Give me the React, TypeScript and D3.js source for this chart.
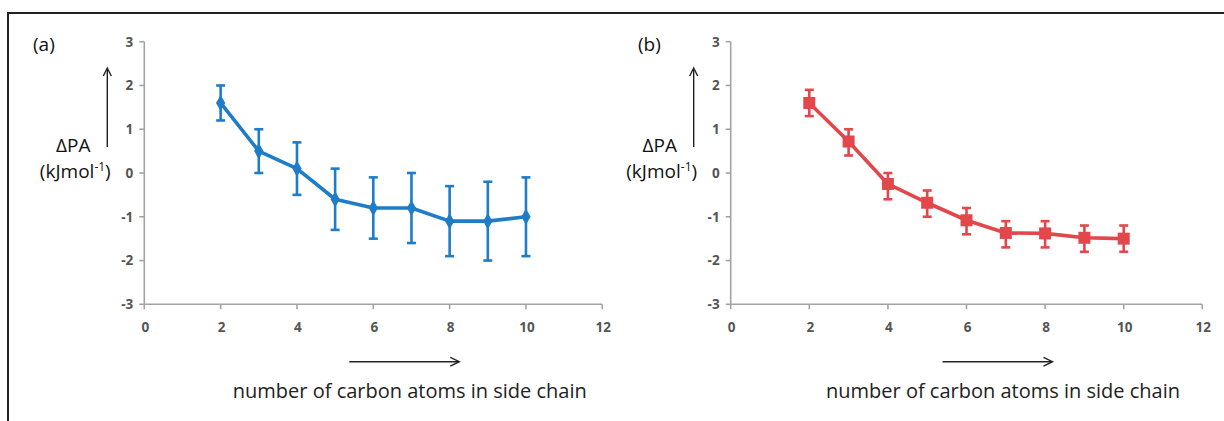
import * as d3 from "d3";

const carbons = [2, 3, 4, 5, 6, 7, 8, 9, 10];

// panel (a)
const paMeanA = [1.6, 0.5, 0.1, -0.6, -0.8, -0.8, -1.1, -1.1, -1.0];
const paHighA = [2.0, 1.0, 0.7, 0.1, -0.1, 0.0, -0.3, -0.2, -0.1];
const paLowA = [1.2, 0.0, -0.5, -1.3, -1.5, -1.6, -1.9, -2.0, -1.9];

// panel (b)
const paMeanB = [1.6, 0.72, -0.25, -0.68, -1.08, -1.37, -1.38, -1.48, -1.5];
const paHighB = [1.9, 1.0, 0.0, -0.4, -0.8, -1.1, -1.1, -1.2, -1.2];
const paLowB = [1.3, 0.4, -0.6, -1.0, -1.4, -1.7, -1.7, -1.8, -1.8];

const xTicks = [0, 2, 4, 6, 8, 10, 12];
const yTicks = [3, 2, 1, 0, -1, -2, -3];
const xLabel = "number of carbon atoms in side chain";

const W = 1224;
const H = 421;
const axisColor = "#a3a3a3";
const tickText = "#555";
const font = "'Open Sans', sans-serif";

function Panel({ tagX, axisX, axisRight, tag, mean, hi, lo, color, marker }) {
  const x = d3.scaleLinear().domain([0, 12]).range([axisX, axisRight]);
  const y = d3.scaleLinear().domain([-3, 3]).range([304.3, 41.7]);
  const line = d3
    .line<number>()
    .x((d, i) => x(carbons[i]))
    .y((d) => y(d));
  const diamond = d3.symbol().type(d3.symbolDiamond).size(75)();
  const labelCx = (x(4) + x(8)) / 2;
  const ax = axisX - 37;

  return (
    <g>
      <text x={tagX} y={51} fontSize={19} fontFamily={font} fill="#111">
        {tag}
      </text>
      {/* vertical arrow */}
      <line x1={ax} x2={ax} y1={147} y2={69} stroke="#222" strokeWidth={1.4} />
      <path
        d={`M${ax - 4},${76} L${ax},${68} L${ax + 4},${76}`}
        fill="none"
        stroke="#222"
        strokeWidth={1.4}
      />
      <text x={axisX - 71} y={152} fontSize={19} fontFamily={font} fill="#111" textAnchor="middle">
        ΔPA
      </text>
      <text x={axisX - 69} y={178} fontSize={19} fontFamily={font} fill="#111" textAnchor="middle">
        (kJmol
        <tspan fontSize={12} dy={-7}>-1</tspan>
        <tspan dy={7}>)</tspan>
      </text>

      {/* axes */}
      <line x1={axisX} x2={axisX} y1={y(3)} y2={y(-3)} stroke={axisColor} strokeWidth={1.6} />
      <line x1={axisX} x2={axisRight} y1={y(-3)} y2={y(-3)} stroke={axisColor} strokeWidth={1.6} />
      {yTicks.map((t) => (
        <g key={"y" + t}>
          <line x1={axisX - 5} x2={axisX} y1={y(t)} y2={y(t)} stroke={axisColor} strokeWidth={1.6} />
          <text
            x={axisX - 11}
            y={y(t) + 4.8}
            fontSize={13.5}
            fontWeight={700}
            fontFamily={font}
            fill={tickText}
            textAnchor="end"
          >
            {t}
          </text>
        </g>
      ))}
      {xTicks.map((t) => (
        <g key={"x" + t}>
          <line x1={x(t)} x2={x(t)} y1={y(-3)} y2={y(-3) + 5} stroke={axisColor} strokeWidth={1.6} />
          <text
            x={x(t) + 1}
            y={y(-3) + 27.5}
            fontSize={13.5}
            fontWeight={700}
            fontFamily={font}
            fill={tickText}
            textAnchor="middle"
          >
            {t}
          </text>
        </g>
      ))}

      {/* error bars */}
      {carbons.map((c, i) => (
        <g key={"e" + c} stroke={color} strokeWidth={2.6}>
          <line x1={x(c)} x2={x(c)} y1={y(hi[i])} y2={y(lo[i])} />
          <line x1={x(c) - 4.5} x2={x(c) + 4.5} y1={y(hi[i])} y2={y(hi[i])} />
          <line x1={x(c) - 4.5} x2={x(c) + 4.5} y1={y(lo[i])} y2={y(lo[i])} />
        </g>
      ))}
      <path d={line(mean) || ""} fill="none" stroke={color} strokeWidth={3.6} strokeLinejoin="round" />
      {carbons.map((c, i) =>
        marker === "square" ? (
          <rect key={"m" + c} x={x(c) - 6} y={y(mean[i]) - 6} width={12} height={12} fill={color} />
        ) : (
          <path key={"m" + c} d={diamond || ""} transform={`translate(${x(c)},${y(mean[i])})`} fill={color} />
        )
      )}

      {/* horizontal arrow + x label */}
      <line x1={labelCx - 24} x2={labelCx + 85} y1={361.7} y2={361.7} stroke="#222" strokeWidth={1.4} />
      <path
        d={`M${labelCx + 77},${357.3} L${labelCx + 86},${361.7} L${labelCx + 77},${366.1}`}
        fill="none"
        stroke="#222"
        strokeWidth={1.4}
      />
      <text x={labelCx + 36.5} y={398} fontSize={20} fontFamily={font} fill="#222" textAnchor="middle">
        {xLabel}
      </text>
    </g>
  );
}

export default function App() {
  return (
    <svg
      width={W}
      height={H}
      style={{ position: "absolute", left: 0, top: 0, background: "#fff" }}
    >
      <rect width={W} height={H} fill="#fff" />
      <line x1={8} x2={W} y1={13} y2={13} stroke="#222" strokeWidth={2} />
      <line x1={8} x2={8} y1={12} y2={H} stroke="#222" strokeWidth={2} />
      <Panel
        tagX={33}
        axisX={144.3}
        axisRight={602.3}
        tag="(a)"
        mean={paMeanA}
        hi={paHighA}
        lo={paLowA}
        color="#1f7cc6"
        marker="diamond"
      />
      <Panel
        tagX={638}
        axisX={730.7}
        axisRight={1202.3}
        tag="(b)"
        mean={paMeanB}
        hi={paHighB}
        lo={paLowB}
        color="#e2474b"
        marker="square"
      />
    </svg>
  );
}
